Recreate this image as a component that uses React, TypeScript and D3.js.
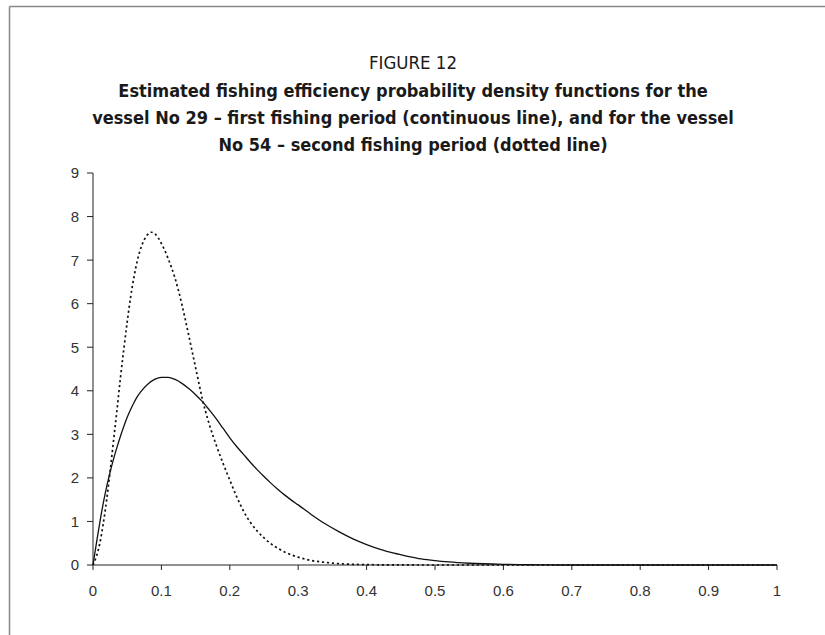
import React from "react";
import * as d3 from "d3";

// efficiency values (x) and estimated density (y)
const vessel29X = [0, 0.005, 0.01, 0.015, 0.02, 0.025, 0.03, 0.035, 0.04, 0.045, 0.05, 0.055, 0.06, 0.065, 0.07, 0.08, 0.09, 0.1, 0.11, 0.12, 0.13, 0.14, 0.15, 0.16, 0.17, 0.18, 0.19, 0.2, 0.21, 0.22, 0.23, 0.24, 0.25, 0.26, 0.27, 0.28, 0.29, 0.3, 0.32, 0.34, 0.36, 0.38, 0.4, 0.42, 0.44, 0.46, 0.48, 0.5, 0.52, 0.55, 0.6, 0.65, 0.7, 0.8, 0.9, 1];
const vessel29Y = [0, 0.5, 0.98, 1.42, 1.8, 2.13, 2.43, 2.7, 2.95, 3.18, 3.39, 3.57, 3.73, 3.87, 3.98, 4.15, 4.26, 4.31, 4.31, 4.26, 4.17, 4.05, 3.91, 3.75, 3.56, 3.36, 3.14, 2.92, 2.72, 2.54, 2.36, 2.19, 2.03, 1.88, 1.74, 1.61, 1.49, 1.38, 1.15, 0.94, 0.76, 0.6, 0.47, 0.36, 0.27, 0.2, 0.14, 0.1, 0.07, 0.04, 0.015, 0.005, 0, 0, 0, 0];

const vessel54X = [0, 0.005, 0.01, 0.015, 0.02, 0.025, 0.03, 0.035, 0.04, 0.045, 0.05, 0.055, 0.06, 0.065, 0.07, 0.075, 0.08, 0.085, 0.09, 0.095, 0.1, 0.105, 0.11, 0.115, 0.12, 0.125, 0.13, 0.135, 0.14, 0.145, 0.15, 0.155, 0.16, 0.165, 0.17, 0.18, 0.19, 0.2, 0.21, 0.22, 0.23, 0.24, 0.25, 0.26, 0.28, 0.3, 0.32, 0.34, 0.36, 0.38, 0.4, 0.45, 0.5, 0.6, 0.7, 0.8, 0.9, 1];
const vessel54Y = [0, 0.2, 0.5, 0.95, 1.5, 2.15, 2.85, 3.55, 4.28, 4.95, 5.58, 6.15, 6.62, 7.0, 7.28, 7.47, 7.59, 7.64, 7.61, 7.52, 7.38, 7.22, 7.03, 6.82, 6.58, 6.3, 5.98, 5.63, 5.27, 4.9, 4.53, 4.16, 3.8, 3.5, 3.23, 2.76, 2.34, 1.95, 1.57, 1.24, 0.98, 0.78, 0.62, 0.49, 0.3, 0.18, 0.1, 0.06, 0.03, 0.015, 0.008, 0.002, 0, 0, 0, 0, 0, 0];

const xTicks = [0, 0.1, 0.2, 0.3, 0.4, 0.5, 0.6, 0.7, 0.8, 0.9, 1];
const yTicks = [0, 1, 2, 3, 4, 5, 6, 7, 8, 9];

const titleLines = [
  "Estimated fishing efficiency probability density functions for the",
  "vessel No 29 – first fishing period (continuous line), and for the vessel",
  "No 54 – second fishing period (dotted line)",
];

const W = 825;
const H = 635;

export default function App() {
  const x = d3.scaleLinear().domain([0, 1]).range([93, 777]);
  const y = d3.scaleLinear().domain([0, 9]).range([565, 173]);

  const line = d3
    .line<[number, number]>()
    .x((d) => x(d[0]))
    .y((d) => y(d[1]))
    .curve(d3.curveMonotoneX);

  const solid = line(vessel29X.map((v, i) => [v, vessel29Y[i]] as [number, number]));
  const dotted = line(vessel54X.map((v, i) => [v, vessel54Y[i]] as [number, number]));

  const tickFont = "'Liberation Sans', Arial, sans-serif";
  const titleFont = "'Liberation Sans Narrow', 'DejaVu Sans Condensed', 'Open Sans', sans-serif";

  return (
    <svg
      width={W}
      height={H}
      style={{ position: "absolute", left: 0, top: 0, background: "#fff" }}
    >
      {/* frame */}
      <line x1={9.5} x2={W} y1={6.5} y2={6.5} stroke="#888" strokeWidth={1.5} />
      <line x1={9.5} x2={9.5} y1={6.5} y2={H} stroke="#888" strokeWidth={1.5} />

      {/* title */}
      <text x={413} y={69} textAnchor="middle" fontFamily={titleFont} fontSize={18.5} fill="#1a1a1a">
        FIGURE 12
      </text>
      {titleLines.map((t, i) => (
        <text
          key={i}
          x={413}
          y={97 + i * 27}
          textAnchor="middle"
          fontFamily={titleFont}
          fontWeight="bold"
          fontSize={18}
          fill="#1a1a1a"
        >
          {t}
        </text>
      ))}

      {/* y axis */}
      <line x1={x(0)} x2={x(0)} y1={y(9)} y2={y(0)} stroke="#222" strokeWidth={1} />
      {yTicks.map((t) => (
        <g key={t}>
          <line x1={x(0) - 6} x2={x(0)} y1={y(t)} y2={y(t)} stroke="#222" />
          <text
            x={x(0) - 14}
            y={y(t)}
            dy="0.36em"
            textAnchor="end"
            fontFamily={tickFont}
            fontSize={15}
            fill="#333"
          >
            {t}
          </text>
        </g>
      ))}

      {/* x axis */}
      <line x1={x(0)} x2={x(1)} y1={y(0)} y2={y(0)} stroke="#222" strokeWidth={1} />
      {xTicks.map((t) => (
        <g key={t}>
          <line x1={x(t)} x2={x(t)} y1={y(0)} y2={y(0) + 5} stroke="#222" />
          <text
            x={x(t)}
            y={y(0) + 31}
            textAnchor="middle"
            fontFamily={tickFont}
            fontSize={15}
            fill="#333"
          >
            {String(t)}
          </text>
        </g>
      ))}

      {/* curves */}
      <path d={dotted ?? ""} fill="none" stroke="#111" strokeWidth={1.7} strokeDasharray="2.2,2.8" />
      <path d={solid ?? ""} fill="none" stroke="#111" strokeWidth={1.3} />
    </svg>
  );
}
